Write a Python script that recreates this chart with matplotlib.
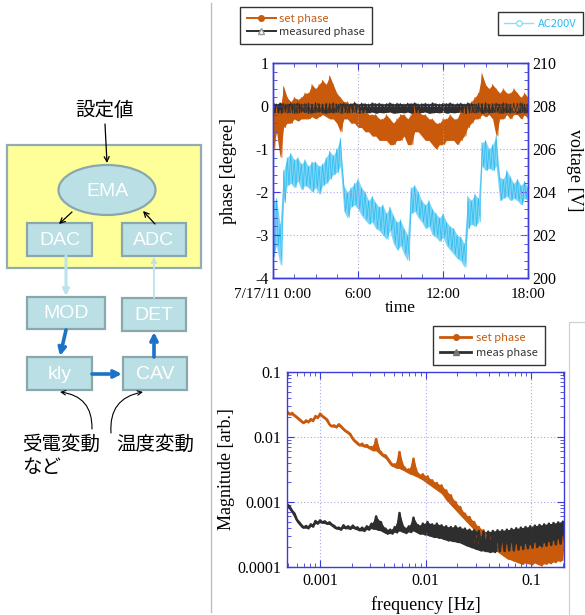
import numpy as np
import matplotlib
matplotlib.use("Agg")
import matplotlib.pyplot as plt
from matplotlib.lines import Line2D
from matplotlib.patches import Rectangle, Ellipse, FancyArrowPatch
from matplotlib.ticker import FixedLocator, FixedFormatter, MultipleLocator, LogLocator, NullFormatter

plt.rcParams['font.family'] = ['Liberation Serif', 'DejaVu Serif']

# ---------------- time series (15-minute envelope samples, 0:00 .. 18:00) ----------------
hours = np.arange(0, 18.01, 0.25)
time_ticks = [0, 6, 12, 18]
time_labels = ['7/17/11 0:00', '6:00', '12:00', '18:00']

set_phase_hi = [0.1, 0.0, -0.1, 0.45, 0.2, 0.1, 0.2, 0.15, 0.2, 0.3, 0.3, 0.5, 0.4, 0.5, 0.6, 0.5,
                0.7, 0.5, 0.3, 0.2, 0.1, 0.1, 0.0, 0.1, 0.0, -0.1, -0.1, -0.2, -0.2, -0.2, -0.3, -0.3,
                -0.2, -0.3, -0.4, -0.3, -0.2, -0.2, -0.3, -0.2, 0.0, -0.1, -0.2, -0.2, -0.3, -0.3,
                -0.4, -0.4, -0.3, -0.3, -0.2, -0.3, -0.3, -0.1, 0.0, 0.0, 0.1, 0.2, 0.3, 0.75, 0.5,
                0.4, 0.5, 0.4, 0.3, 0.4, 0.3, 0.3, 0.4, 0.3, 0.2, 0.3, 0.2]
set_phase_lo = [-1.0, -0.6, -1.2, -0.5, -0.4, -0.4, -0.3, -0.35, -0.3, -0.3, -0.3, -0.25, -0.3,
                -0.25, -0.2, -0.25, -0.3, -0.3, -0.4, -0.6, -0.3, -0.3, -0.4, -0.4, -0.5, -0.5,
                -0.6, -0.6, -0.7, -0.7, -0.8, -0.8, -0.8, -0.9, -0.9, -0.8, -0.8, -0.7, -0.9, -0.9,
                -0.6, -0.6, -0.7, -0.8, -0.8, -0.9, -1.0, -0.9, -0.9, -0.8, -0.8, -0.8, -0.9, -0.8,
                -0.7, -0.5, -0.4, -0.3, -0.3, -0.2, -0.25, -0.2, -0.3, -0.7, -0.3, -0.3, -0.2,
                -0.3, -0.2, -0.2, -0.3, -0.2, -0.3]
meas_phase_hi = [0.07, 0.05, 0.08, 0.06, 0.05, 0.07, 0.06, 0.08, 0.05, 0.06, 0.07, 0.05, 0.08,
                 0.06, 0.05, 0.07, 0.06, 0.08, 0.05, 0.06, 0.07, 0.05, 0.06, 0.08, 0.05, 0.07,
                 0.06, 0.05, 0.08, 0.06, 0.07, 0.05, 0.06, 0.08, 0.05, 0.07, 0.06, 0.05, 0.07,
                 0.06, 0.08, 0.05, 0.06, 0.07, 0.05, 0.08, 0.06, 0.05, 0.07, 0.06, 0.08, 0.05,
                 0.06, 0.07, 0.05, 0.08, 0.06, 0.05, 0.07, 0.06, 0.08, 0.05, 0.06, 0.07, 0.05,
                 0.08, 0.06, 0.05, 0.07, 0.06, 0.08, 0.05, 0.06]
meas_phase_lo = [-0.16, -0.15, -0.17, -0.14, -0.16, -0.15, -0.17, -0.16, -0.14, -0.15, -0.17,
                 -0.16, -0.15, -0.14, -0.16, -0.17, -0.15, -0.16, -0.14, -0.17, -0.15, -0.16,
                 -0.15, -0.14, -0.17, -0.16, -0.15, -0.16, -0.14, -0.17, -0.15, -0.16, -0.15,
                 -0.14, -0.17, -0.16, -0.15, -0.16, -0.14, -0.17, -0.15, -0.16, -0.15, -0.14,
                 -0.17, -0.16, -0.15, -0.16, -0.14, -0.17, -0.15, -0.16, -0.15, -0.14, -0.17,
                 -0.16, -0.15, -0.16, -0.14, -0.17, -0.15, -0.16, -0.15, -0.14, -0.17, -0.16,
                 -0.15, -0.16, -0.14, -0.17, -0.15, -0.16, -0.15]
set_marker_t = [17.05]
set_marker_v = [-0.02]

ac_hi = [203.5, 203.7, 202.5, 205.0, 205.6, 205.8, 205.5, 205.6, 205.3, 205.5, 205.2, 205.4,
         205.4, 205.2, 205.3, 205.6, 205.9, 205.7, 206.0, 206.5, 204.3, 204.0, 204.2, 204.4,
         204.6, 204.2, 204.0, 203.6, 203.8, 203.5, 203.3, 203.4, 203.0, 203.3, 202.9, 202.6,
         202.7, 202.3, 202.0, 204.2, 204.3, 204.0, 203.6, 203.4, 203.6, 203.2, 203.0, 202.8,
         203.0, 202.6, 202.4, 202.3, 202.0, 201.9, 201.6, 203.8, 203.6, 203.9, 203.7, 206.3,
         206.4, 206.0, 206.2, 206.6, 204.7, 204.6, 205.0, 204.7, 204.4, 204.6, 204.3, 204.5,
         204.2]
ac_lo = [201.0, 201.5, 200.6, 203.5, 204.3, 204.4, 204.2, 204.5, 204.1, 204.3, 204.2, 204.0,
         204.2, 203.9, 204.3, 204.4, 204.6, 204.8, 204.9, 205.2, 203.1, 202.8, 203.3, 203.4,
         203.2, 202.9, 202.7, 202.5, 202.6, 202.3, 202.2, 202.0, 201.8, 202.2, 201.6, 201.3,
         201.5, 201.1, 200.8, 203.0, 203.1, 202.8, 202.6, 202.3, 202.4, 202.0, 201.9, 201.7,
         201.9, 201.5, 201.3, 201.1, 200.9, 200.8, 200.5, 202.3, 202.5, 202.4, 202.6, 205.2,
         205.0, 205.1, 205.0, 205.2, 203.6, 203.7, 203.8, 203.6, 203.7, 203.6, 203.4, 203.7,
         203.6]

# ---------------- spectrum (envelope samples on a log-spaced frequency grid) ----------------
spec_freq = np.geomspace(4.9e-4, 0.2, 60)
freq_ticks = [0.001, 0.01, 0.1]
freq_labels = ['0.001', '0.01', '0.1']
mag_ticks = [1e-4, 1e-3, 1e-2, 1e-1]
mag_labels = ['0.0001', '0.001', '0.01', '0.1']

set_mag_hi = [0.0243, 0.0234, 0.0203, 0.0176, 0.0180, 0.0189, 0.0210, 0.0229, 0.0198, 0.0157,
              0.0151, 0.0157, 0.0133, 0.0118, 0.00942, 0.00809, 0.00789, 0.00753, 0.00702,
              0.00931, 0.00588, 0.00522, 0.00412, 0.00380, 0.00588, 0.00345, 0.00318, 0.00464,
              0.00273, 0.00267, 0.00248, 0.00216, 0.00196, 0.00180, 0.00151, 0.00127, 0.00100,
              0.000838, 0.000662, 0.000588, 0.000492, 0.000412, 0.000367, 0.000326, 0.000297,
              0.000257, 0.000229, 0.000216, 0.000223, 0.000216, 0.000203, 0.000216, 0.000208,
              0.000229, 0.000203, 0.000223, 0.000234, 0.000243, 0.000257, 0.000290]
set_mag_lo = [0.0223, 0.0216, 0.0189, 0.0164, 0.0168, 0.0176, 0.0196, 0.0210, 0.0185, 0.0146,
              0.0141, 0.0146, 0.0124, 0.0110, 0.00868, 0.00745, 0.00718, 0.00686, 0.00623,
              0.00609, 0.00522, 0.00464, 0.00367, 0.00337, 0.00326, 0.00300, 0.00273, 0.00257,
              0.00237, 0.00216, 0.00191, 0.00170, 0.00151, 0.00134, 0.00106, 0.000889,
              0.000745, 0.000623, 0.000522, 0.000438, 0.000367, 0.000307, 0.000273, 0.000234,
              0.000203, 0.000170, 0.000151, 0.000134, 0.000127, 0.000119, 0.000112, 0.000115,
              0.000110, 0.000115, 0.000106, 0.000112, 0.000115, 0.000119, 0.000124, 0.000127]
meas_mag_hi = [0.000910, 0.000728, 0.000535, 0.000438, 0.000428, 0.000453, 0.000510, 0.000522,
               0.000504, 0.000486, 0.000428, 0.000403, 0.000438, 0.000423, 0.000433, 0.000407,
               0.000403, 0.000423, 0.000464, 0.000601, 0.000492, 0.000389, 0.000375, 0.000412,
               0.000678, 0.000403, 0.000423, 0.000574, 0.000438, 0.000464, 0.000492, 0.000453,
               0.000464, 0.000438, 0.000423, 0.000412, 0.000423, 0.000403, 0.000389, 0.000375,
               0.000367, 0.000358, 0.000350, 0.000350, 0.000358, 0.000367, 0.000367, 0.000375,
               0.000385, 0.000394, 0.000403, 0.000412, 0.000423, 0.000433, 0.000443, 0.000453,
               0.000464, 0.000475, 0.000486, 0.000498]
meas_mag_lo = [0.000838, 0.000662, 0.000486, 0.000403, 0.000394, 0.000418, 0.000464, 0.000481,
               0.000464, 0.000448, 0.000394, 0.000375, 0.000394, 0.000385, 0.000394, 0.000367,
               0.000358, 0.000375, 0.000389, 0.000375, 0.000358, 0.000326, 0.000326, 0.000341,
               0.000358, 0.000333, 0.000345, 0.000358, 0.000326, 0.000318, 0.000307, 0.000290,
               0.000283, 0.000273, 0.000257, 0.000251, 0.000243, 0.000234, 0.000216, 0.000203,
               0.000191, 0.000180, 0.000176, 0.000170, 0.000170, 0.000176, 0.000176, 0.000180,
               0.000180, 0.000185, 0.000189, 0.000194, 0.000198, 0.000203, 0.000208, 0.000213,
               0.000218, 0.000223, 0.000229, 0.000234]
set_marker_f = [0.0308, 0.0513]
set_marker_mag = [0.00027, 0.00019]

# ---------------- colours ----------------
ORANGE = '#C95A0C'
DARK = '#2E2E2E'
CYAN = '#2CBBF0'
CYAN_LIGHT = '#7DD5F6'
SPINE = '#3C3CD8'
GRID = '#A8A8EC'


def interleave(x, hi, lo, dx):
    """Zig-zag between the upper and lower envelope to draw a dense noisy trace."""
    x = np.asarray(x, float)
    xs = np.empty(2 * len(x))
    ys = np.empty(2 * len(x))
    xs[0::2] = x
    xs[1::2] = dx(x)
    ys[0::2] = hi
    ys[1::2] = lo
    return xs, ys


def noisy_band(ax, x, hi, lo, dx, color, lw, fill_color=None):
    """Solid band between the envelopes with a jagged trace on top."""
    ax.fill_between(x, lo, hi, color=fill_color or color, lw=0)
    xs, ys = interleave(x, hi, lo, dx)
    ax.plot(xs, ys, color=color, lw=lw)


W, H = 585, 615
fig = plt.figure(figsize=(W / 100, H / 100), dpi=100)

# ---------------- block diagram (pixel coordinates) ----------------
axd = fig.add_axes([0, 0, 1, 1])
axd.set_xlim(0, W)
axd.set_ylim(H, 0)
axd.axis('off')

BOX_FILL = '#BADFE4'
BOX_EDGE = '#8AA7AD'
BLUE = '#1B72C6'
PALE = '#BCE3EC'
jp = ['Noto Sans CJK JP', 'DejaVu Sans']

axd.add_patch(Rectangle((7, 145), 194, 123, facecolor='#FFFF99', edgecolor='#92ABB6', lw=1.6))
axd.add_patch(Ellipse((107, 190), 97, 50, facecolor=BOX_FILL, edgecolor=BOX_EDGE, lw=1.6))
axd.text(107, 191, 'EMA', color='white', fontsize=14, family='Liberation Sans',
         ha='center', va='center')

boxes = {
    'DAC': (27, 223, 65, 33),
    'ADC': (122, 223, 64, 33),
    'MOD': (27, 297, 78, 32),
    'DET': (122, 298, 64, 33),
    'kly': (27, 357, 65, 33),
    'CAV': (123, 357, 64, 33),
}
for name, (x0, y0, w, h) in boxes.items():
    axd.add_patch(Rectangle((x0, y0), w, h, facecolor=BOX_FILL, edgecolor=BOX_EDGE, lw=1.6))
    axd.text(x0 + w / 2, y0 + h / 2 + 1, name, color='white', fontsize=14,
             family='Liberation Sans', ha='center', va='center')


def arrow(p0, p1, color, lw, style, ms=10, rad=0.0):
    axd.add_patch(FancyArrowPatch(p0, p1, arrowstyle=style, mutation_scale=ms, color=color,
                                  lw=lw, connectionstyle=f'arc3,rad={rad}', shrinkA=0, shrinkB=0))


arrow((105, 124), (107, 163), 'black', 0.9, '->', ms=9)
arrow((72, 212), (59, 224), 'black', 0.9, '->', ms=9)
arrow((155, 224), (143, 211), 'black', 0.9, '->', ms=9)
arrow((66, 256), (66, 296), PALE, 2.2, '-|>', ms=9)
arrow((154, 298), (154, 257), PALE, 1.3, '->', ms=8)
arrow((66, 330), (60, 356), BLUE, 2.6, '->', ms=11)
arrow((92, 374), (122, 374), BLUE, 2.6, '->', ms=11)
arrow((154, 357), (154, 332), BLUE, 2.6, '->', ms=11)
arrow((92, 429), (60, 392), 'black', 0.8, '->', ms=8, rad=0.45)
arrow((111, 433), (143, 392), 'black', 0.8, '->', ms=8, rad=-0.45)

axd.text(105, 110, '設定値', family=jp, fontsize=14, ha='center', va='center')
axd.text(22, 444, '受電変動', family=jp, fontsize=14, ha='left', va='center')
axd.text(22, 467, 'など', family=jp, fontsize=14, ha='left', va='center')
axd.text(116, 444, '温度変動', family=jp, fontsize=14, ha='left', va='center')

# panel separators
axd.plot([211, 211], [3, 612], color='#BDBDBD', lw=1.0)
axd.plot([569, 569, 585], [615, 322, 322], color='#D0D0D0', lw=0.9)

# ---------------- time series panel ----------------
ax1 = fig.add_axes([273 / W, 1 - 278 / H, 255 / W, 215 / H])
ax2 = ax1.twinx()
ax1.set_zorder(ax2.get_zorder() + 1)
ax1.patch.set_visible(False)

half_step = lambda x: x + 0.125
noisy_band(ax2, hours, ac_hi, ac_lo, half_step, CYAN, 0.5, fill_color=CYAN_LIGHT)
noisy_band(ax1, hours, set_phase_hi, set_phase_lo, half_step, ORANGE, 0.6)
ax1.plot(set_marker_t, set_marker_v, 'o', color=ORANGE, ms=5)
noisy_band(ax1, hours, meas_phase_hi, meas_phase_lo, half_step, DARK, 0.6)

ax1.set_xlim(0, 18)
ax1.set_ylim(-4, 1)
ax2.set_ylim(200, 210)
ax1.xaxis.set_major_locator(FixedLocator(time_ticks))
ax1.xaxis.set_major_formatter(FixedFormatter(time_labels))
ax1.xaxis.set_minor_locator(MultipleLocator(1.5))
ax1.yaxis.set_major_locator(MultipleLocator(1))
ax1.yaxis.set_minor_locator(MultipleLocator(0.2))
ax2.yaxis.set_major_locator(MultipleLocator(2))
ax2.yaxis.set_minor_locator(MultipleLocator(0.4))
ax1.yaxis.set_major_formatter(plt.FuncFormatter(lambda v, p: f'{v:g}'))
ax1.grid(True, which='major', ls=(0, (1, 2)), color=GRID, lw=0.8)

for ax in (ax1, ax2):
    for s in ax.spines.values():
        s.set_color(SPINE)
        s.set_linewidth(1.0)
ax1.tick_params(which='both', direction='in', color=SPINE, labelcolor='black', top=True,
                right=False, labelsize=11.5, pad=3)
ax1.tick_params(axis='x', which='major', pad=7, labelsize=11)
ax1.tick_params(which='major', length=5)
ax1.tick_params(which='minor', length=3)
ax2.tick_params(which='both', direction='in', color=SPINE, labelcolor='black', labelsize=11.5,
                pad=3)
ax2.tick_params(which='major', length=5)
ax2.tick_params(which='minor', length=3)

ax1.set_xlabel('time', fontsize=12.5)
ax1.xaxis.set_label_coords(0.5, -0.102)
ax1.set_ylabel('phase [degree]', fontsize=13, va='center')
ax1.yaxis.set_label_coords(-0.176, 0.5)
ax2.set_ylabel('voltage [V]', fontsize=13, rotation=270, va='center')
ax2.yaxis.set_label_coords(1.184, 0.5)

leg_font = {'family': 'Noto Sans CJK JP', 'size': 8}
h_set = Line2D([], [], color=ORANGE, lw=1.4, marker='o', ms=4)
h_meas = Line2D([], [], color=DARK, lw=1.4, marker='^', ms=4, mfc='white', mec='#999999')
leg1 = fig.legend([h_set, h_meas], ['set phase', 'measured phase'], loc='upper left',
                  bbox_to_anchor=(240 / W, 1 - 7 / H), prop=leg_font, fancybox=False,
                  edgecolor='#333333', framealpha=1, handlelength=2.6, handletextpad=0.35,
                  borderpad=0.6, labelspacing=0.3, borderaxespad=0)
leg1.get_frame().set_linewidth(1.0)
for t, c in zip(leg1.get_texts(), [ORANGE, '#333333']):
    t.set_color(c)

h_ac = Line2D([], [], color='#8FDDF8', lw=1.0, marker='o', ms=4, mfc='white', mec='#8FDDF8')
leg2 = fig.legend([h_ac], ['AC200V'], loc='upper right', bbox_to_anchor=(583 / W, 1 - 12 / H),
                  prop=leg_font, fancybox=False, edgecolor='#333333', framealpha=1,
                  handlelength=2.6, handletextpad=0.4, borderpad=0.6, borderaxespad=0)
leg2.get_frame().set_linewidth(1.0)
leg2.get_texts()[0].set_color(CYAN)

# ---------------- spectrum panel ----------------
ax3 = fig.add_axes([287 / W, 1 - 567 / H, 277 / W, 195 / H])
ratio = (spec_freq[1] / spec_freq[0]) ** 0.5
half_log_step = lambda x: x * ratio
noisy_band(ax3, spec_freq, set_mag_hi, set_mag_lo, half_log_step, ORANGE, 1.8)
ax3.plot(set_marker_f, set_marker_mag, 'o', color=ORANGE, ms=5)
noisy_band(ax3, spec_freq, meas_mag_hi, meas_mag_lo, half_log_step, DARK, 1.8)
ax3.set_xscale('log')
ax3.set_yscale('log')
ax3.set_xlim(4.85e-4, 0.205)
ax3.set_ylim(1e-4, 0.1)
ax3.xaxis.set_major_locator(FixedLocator(freq_ticks))
ax3.xaxis.set_major_formatter(FixedFormatter(freq_labels))
ax3.yaxis.set_major_locator(FixedLocator(mag_ticks))
ax3.yaxis.set_major_formatter(FixedFormatter(mag_labels))
for axis in (ax3.xaxis, ax3.yaxis):
    axis.set_minor_locator(LogLocator(base=10, subs=np.arange(2, 10), numticks=20))
    axis.set_minor_formatter(NullFormatter())
ax3.grid(True, which='major', ls=(0, (1, 2)), color=GRID, lw=0.8)
for s in ax3.spines.values():
    s.set_color(SPINE)
    s.set_linewidth(1.0)
ax3.tick_params(which='both', direction='in', color=SPINE, labelcolor='black', top=True,
                right=True, labelsize=11.5, pad=4)
ax3.tick_params(which='major', length=5)
ax3.tick_params(which='minor', length=3)
ax3.set_xlabel('frequency [Hz]', fontsize=13)
ax3.xaxis.set_label_coords(0.5, -0.15)
ax3.set_ylabel('Magnitude [arb.]', fontsize=13, va='center')
ax3.yaxis.set_label_coords(-0.217, 0.5)

leg_font3 = {'family': 'Noto Sans CJK JP', 'size': 8}
h_set3 = Line2D([], [], color=ORANGE, lw=2.0, marker='o', ms=4)
h_meas3 = Line2D([], [], color=DARK, lw=2.0, marker='^', ms=4, mfc='#777777', mec='#777777')
leg3 = fig.legend([h_set3, h_meas3], ['set phase', 'meas phase'], loc='upper left',
                  bbox_to_anchor=(433 / W, 1 - 326 / H), prop=leg_font3, fancybox=False,
                  edgecolor='#333333', framealpha=1, handlelength=2.8, handletextpad=0.45,
                  borderpad=0.65, labelspacing=0.4, borderaxespad=0)
leg3.get_frame().set_linewidth(1.0)
for t, c in zip(leg3.get_texts(), [ORANGE, '#333333']):
    t.set_color(c)

fig.savefig('out.png', dpi=100)
